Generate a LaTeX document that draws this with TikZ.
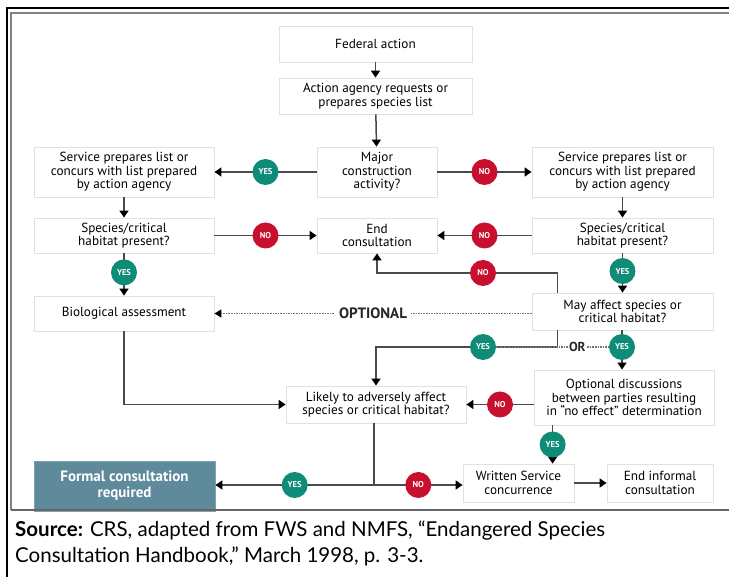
\documentclass[tikz,border=0pt]{standalone}
\usepackage{fontspec}
\setmainfont{PT Sans}
\newfontfamily\srcfont{Lato}
\usetikzlibrary{arrows.meta,calc}
\definecolor{yesc}{HTML}{0F8C77}
\definecolor{noc}{HTML}{C8102E}
\definecolor{boxgray}{HTML}{DCE3E8}
\definecolor{lineg}{HTML}{4A4A4A}
\definecolor{formalc}{HTML}{5F8A9C}
\begin{document}
\begin{tikzpicture}[x=1pt,y=-1pt,
  box/.style={draw=boxgray, line width=0.8pt, fill=white, align=center,
    font=\fontsize{13.2}{13.5}\selectfont, inner sep=0pt},
  conn/.style={draw=lineg, line width=1.5pt},
  arr/.style={conn, -{Triangle[width=9pt,length=7pt,color=black]}},
  yesn/.style={circle, fill=yesc, text=white, font=\bfseries\fontsize{8.5}{9}\selectfont,
    minimum size=26pt, inner sep=0pt},
  non/.style={yesn, fill=noc},
  dotl/.style={draw=black!55, line width=1.6pt, densely dotted},
  lab/.style={fill=white, text=black!85, font=\bfseries\fontsize{15}{16}\selectfont, inner ysep=0pt},
]
\fill[white] (0,0) rectangle (729,577);
\useasboundingbox (0,0) rectangle (729,577);

% boxes
\node[box, minimum width=193pt, minimum height=36pt] (fed) at (375.5,44) {Federal action};
\node[box, minimum width=193pt, minimum height=36pt] (agency) at (375.5,96) {Action agency requests or\\prepares species list};
\node[box, minimum width=120pt, minimum height=50pt] (major) at (377,172) {Major\\construction\\activity?};
\node[box, minimum width=180pt, minimum height=50pt] (spl) at (124,172) {Service prepares list or\\concurs with list prepared\\by action agency};
\node[box, minimum width=181pt, minimum height=50pt] (spr) at (622.5,172) {Service prepares list or\\concurs with list prepared\\by action agency};
\node[box, minimum width=180pt, minimum height=35pt] (scl) at (124,235.5) {Species/critical\\habitat present?};
\node[box, minimum width=120pt, minimum height=35pt] (endc) at (377,235.5) {End\\consultation};
\node[box, minimum width=181pt, minimum height=35pt] (scr) at (622.5,235.5) {Species/critical\\habitat present?};
\node[box, minimum width=180pt, minimum height=35pt] (bio) at (124,313.5) {Biological assessment};
\node[box, minimum width=181pt, minimum height=37pt] (may) at (622.5,311.5) {May affect species or\\critical habitat?};
\node[box, minimum width=180pt, minimum height=37pt] (likely) at (376,404.5) {Likely to adversely affect\\species or critical habitat?};
\node[box, minimum width=180pt, minimum height=55pt] (opt) at (624,397.5) {Optional discussions\\between parties resulting\\in “no effect” determination};
\node[box, draw=formalc!80!white, fill=formalc, text=white, font=\bfseries\fontsize{15}{16}\selectfont,
  minimum width=181pt, minimum height=50pt] (formal) at (124.5,486) {Formal consultation\\required};
\node[box, minimum width=111pt, minimum height=38pt] (written) at (518.5,483) {Written Service\\concurrence};
\node[box, minimum width=106pt, minimum height=38pt] (endinf) at (660,483) {End informal\\consultation};

% coordinates
\coordinate (hno) at (0,273);
\coordinate (hyes) at (0,347);
\coordinate (jn) at ($(likely.south |- 0,485)+(-2,0)$);
\coordinate (ob) at ($(opt.south west)+(19,0)$);
\coordinate (ls) at ($(likely.south)+(-2,0)$);

% connectors
\draw[arr] (fed) -- (agency);
\draw[arr] (agency) -- (major);
\draw[arr] (major.west) -- (spl.east) node[yesn, midway] {YES};
\draw[arr] (major.east) -- (spr.west) node[non, midway] {NO};
\draw[arr] (spl) -- (scl);
\draw[arr] (spr) -- (scr);
\draw[arr] (scl.east) -- (endc.west) node[non, midway] {NO};
\draw[arr] (scr.west) -- (endc.east) node[non, midway] {NO};
\draw[arr] (scl.south) -- (bio.north) node[yesn, pos=0.45] {YES};
\draw[arr] (scr.south) -- (may.north) node[yesn, pos=0.45] {YES};
\draw[arr] ($(may.north west)+(26,0)$) |- (endc.south |- hno) -- (endc.south);
\draw[arr] ($(may.south west)+(26,0)$) |- (likely.north |- hyes) -- (likely.north);
\draw[arr] (may.south -| 622,0) -- (opt.north -| 622,0);
\draw[arr] (bio.south) |- (likely.west);
\draw[arr] (likely.east -| opt.west) -- (likely.east) node[non, midway] {NO};
\draw[arr] (ob) -- (ob |- written.north) node[yesn, midway] {YES};
\draw[conn] (ls) -- (jn);
\draw[arr] (jn) -- (formal.east |- jn) node[yesn, midway] {YES};
\draw[arr] (jn) -- (written.west |- jn) node[non, midway] {NO};
\draw[arr] (written) -- (endinf);

\node[non] (no4) at (483,273) {NO};
\node[yesn] (yes5) at (483,347) {YES};
\node[yesn] (yes6) at (622,347) {YES};

% dotted
\draw[dotl, -{Triangle[width=8pt,length=7pt,color=black]}] (bio.east -| may.west) -- (bio.east)
  node[midway, lab, inner xsep=4pt] {OPTIONAL};
\draw[dotl] (yes5) -- (yes6) node[pos=0.72, lab, inner xsep=1pt, font=\bfseries\fontsize{13}{14}\selectfont] {OR};

% frame
\draw[black, line width=1.3pt] (7,577) -- (7,8) -- (729,8);
\draw[gray, line width=1.5pt] (11,510) -- (11,13) -- (729,13);
\draw[black!60, line width=2pt] (11,510) -- (729,510);

% source
\node[anchor=north west, inner sep=0pt, font=\srcfont\fontsize{20.5}{25.5}\selectfont, align=left] (src) at (15,521)
  {\textbf{Source:} CRS, adapted from FWS and NMFS, “Endangered Species\\Consultation Handbook,” March 1998, p. 3-3.};
\end{tikzpicture}
\end{document}
